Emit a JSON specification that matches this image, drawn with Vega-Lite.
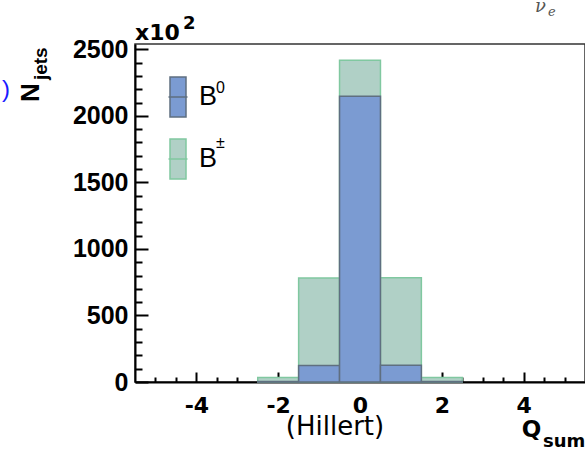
{
  "$schema": "https://vega.github.io/schema/vega-lite/v6.json",
  "width": 450,
  "height": 338,
  "autosize": {"type": "none"},
  "padding": {"left": 135, "top": 44, "right": 0, "bottom": 72},
  "background": "white",
  "config": {
    "view": {"stroke": "#333", "strokeWidth": 1.5},
    "axis": {"grid": false, "title": null},
    "legend": {
      "orient": "none",
      "legendX": 22,
      "legendY": 32,
      "padding": 0,
      "title": null,
      "symbolType": "M-0.4,-1L0.4,-1L0.4,1L-0.4,1Z M-0.475,0L0.475,0",
      "symbolSize": 1600,
      "symbolStrokeWidth": 1.5,
      "symbolOpacity": 1,
      "labelFont": "Liberation Sans",
      "labelFontSize": 27,
      "labelColor": "#000",
      "labelOffset": 0,
      "rowPadding": 16
    }
  },
  "datasets": {
    "hist": [
      {"q_lo": -2.5, "q_hi": -1.5, "series": "B±", "n": 34},
      {"q_lo": -1.5, "q_hi": -0.5, "series": "B±", "n": 782},
      {"q_lo": -0.5, "q_hi": 0.5, "series": "B±", "n": 2417},
      {"q_lo": 0.5, "q_hi": 1.5, "series": "B±", "n": 784},
      {"q_lo": 1.5, "q_hi": 2.5, "series": "B±", "n": 34},
      {"q_lo": -2.5, "q_hi": -1.5, "series": "B0", "n": 3},
      {"q_lo": -1.5, "q_hi": -0.5, "series": "B0", "n": 124},
      {"q_lo": -0.5, "q_hi": 0.5, "series": "B0", "n": 2147},
      {"q_lo": 0.5, "q_hi": 1.5, "series": "B0", "n": 126},
      {"q_lo": 1.5, "q_hi": 2.5, "series": "B0", "n": 3}
    ],
    "one": [{}]
  },
  "resolve": {"axis": {"x": "independent", "y": "independent"}},
  "layer": [
    {
      "data": {"name": "hist"},
      "transform": [{"filter": "datum.series === 'B±'"}],
      "mark": {"type": "bar", "strokeWidth": 1.5},
      "encoding": {
        "x": {"field": "q_lo", "type": "quantitative",
          "scale": {"domain": [-5.5, 5.5], "nice": false, "zero": false},
          "axis": {"orient": "bottom", "values": [-4, -2, 0, 2, 4], "tickSize": 0, "tickOpacity": 0,
            "domainColor": "#000", "domainWidth": 2, "labelFont": "DejaVu Sans", "labelFontSize": 22, "labelFontWeight": "bold",
            "labelColor": "#000", "labelPadding": 13, "labelFlush": false, "labelExpr": "'' + datum.value", "title": null}},
        "x2": {"field": "q_hi"},
        "y": {"field": "n", "type": "quantitative",
          "scale": {"domain": [0, 2540], "nice": false, "zero": false},
          "axis": {"orient": "left", "values": [0, 500, 1000, 1500, 2000, 2500], "tickSize": 0, "tickOpacity": 0,
            "domainColor": "#000", "domainWidth": 2, "labelFont": "Liberation Sans", "labelFontSize": 25, "labelFontWeight": "bold",
            "labelColor": "#000", "labelPadding": 7, "labelExpr": "'' + datum.value", "title": null}},
        "y2": {"datum": 0},
        "fill": {"field": "series", "type": "nominal", "scale": {"domain": ["B0", "B±"], "range": ["#7b9bd2", "#b0d0c6"]},
          "legend": {"labelExpr": "'B'"}},
        "stroke": {"field": "series", "type": "nominal", "scale": {"domain": ["B0", "B±"], "range": ["#5f6f80", "#80c8a0"]},
          "legend": {"labelExpr": "'B'"}}
      }
    },
    {
      "data": {"name": "hist"},
      "transform": [{"filter": "datum.series === 'B0'"}],
      "mark": {"type": "bar", "strokeWidth": 1.5},
      "encoding": {
        "x": {"field": "q_lo", "type": "quantitative",
          "axis": {"orient": "top", "offset": -338, "values": [-4, -2, 0, 2, 4],
            "ticks": true, "tickSize": 10, "tickWidth": 2, "tickColor": "black", "domain": false, "labels": false, "title": null}},
        "x2": {"field": "q_hi"},
        "y": {"field": "n", "type": "quantitative",
          "axis": {"orient": "right", "offset": -450, "values": [0, 500, 1000, 1500, 2000, 2500],
            "ticks": true, "tickSize": 13, "tickWidth": 2, "tickColor": "black", "domain": false, "labels": false, "title": null}},
        "y2": {"datum": 0},
        "fill": {"field": "series", "type": "nominal", "legend": {"labelExpr": "'B'"}},
        "stroke": {"field": "series", "type": "nominal", "legend": {"labelExpr": "'B'"}}
      }
    },
    {
      "data": {"name": "one"},
      "mark": {"type": "text", "text": ")", "align": "right", "baseline": "alphabetic", "font": "Liberation Sans", "fontSize": 24, "color": "#1a1aff"},
      "encoding": {
        "x": {"datum": -8.556, "type": "quantitative",
          "axis": {"orient": "top", "offset": -338, "values": [-5, -4.5, -3.5, -3, -2.5, -1.5, -1, -0.5, 0.5, 1, 1.5, 2.5, 3, 3.5, 4.5, 5],
            "ticks": true, "tickSize": 5, "tickWidth": 2, "tickColor": "black", "domain": false, "labels": false, "title": null}},
        "y": {"datum": 2142, "type": "quantitative",
          "axis": {"orient": "right", "offset": -450, "values": [100, 200, 300, 400, 600, 700, 800, 900, 1100, 1200, 1300, 1400, 1600, 1700, 1800, 1900, 2100, 2200, 2300, 2400],
            "ticks": true, "tickSize": 7, "tickWidth": 2, "tickColor": "black", "domain": false, "labels": false, "title": null}}}
    },
    {
      "data": {"name": "one"},
      "mark": {"type": "text", "text": "N", "angle": 270, "align": "left", "baseline": "alphabetic", "font": "Liberation Sans", "fontSize": 26, "fontWeight": "bold", "color": "#000"},
      "encoding": {"x": {"datum": -7.847, "type": "quantitative", "axis": null}, "y": {"datum": 2104, "type": "quantitative", "axis": null}}
    },
    {
      "data": {"name": "one"},
      "mark": {"type": "text", "text": "jets", "angle": 270, "align": "left", "baseline": "alphabetic", "font": "Liberation Sans", "fontSize": 19, "fontWeight": "bold", "color": "#000"},
      "encoding": {"x": {"datum": -7.651, "type": "quantitative", "axis": null}, "y": {"datum": 2269, "type": "quantitative", "axis": null}}
    },
    {
      "data": {"name": "one"},
      "mark": {"type": "text", "text": "x10", "align": "left", "baseline": "alphabetic", "font": "DejaVu Sans", "fontSize": 22, "fontWeight": "bold", "color": "#000"},
      "encoding": {"x": {"datum": -5.5, "type": "quantitative", "axis": null}, "y": {"datum": 2570, "type": "quantitative", "axis": null}}
    },
    {
      "data": {"name": "one"},
      "mark": {"type": "text", "text": "2", "align": "left", "baseline": "alphabetic", "font": "DejaVu Sans", "fontSize": 18, "fontWeight": "bold", "color": "#000"},
      "encoding": {"x": {"datum": -4.327, "type": "quantitative", "axis": null}, "y": {"datum": 2653, "type": "quantitative", "axis": null}}
    },
    {
      "data": {"name": "one"},
      "mark": {"type": "text", "text": "0", "align": "left", "baseline": "alphabetic", "font": "Liberation Sans", "fontSize": 16, "color": "#000"},
      "encoding": {"x": {"datum": -3.52, "type": "quantitative", "axis": null}, "y": {"datum": 2172, "type": "quantitative", "axis": null}}
    },
    {
      "data": {"name": "one"},
      "mark": {"type": "text", "text": "±", "align": "left", "baseline": "alphabetic", "font": "Liberation Sans", "fontSize": 16, "color": "#000"},
      "encoding": {"x": {"datum": -3.52, "type": "quantitative", "axis": null}, "y": {"datum": 1758, "type": "quantitative", "axis": null}}
    },
    {
      "data": {"name": "one"},
      "mark": {"type": "text", "text": "(Hillert)", "align": "center", "baseline": "alphabetic", "font": "DejaVu Sans", "fontSize": 26, "color": "#000"},
      "encoding": {"x": {"datum": -0.611, "type": "quantitative", "axis": null}, "y": {"datum": -398, "type": "quantitative", "axis": null}}
    },
    {
      "data": {"name": "one"},
      "mark": {"type": "text", "text": "Q", "align": "left", "baseline": "alphabetic", "font": "DejaVu Sans", "fontSize": 23, "fontWeight": "bold", "color": "#000"},
      "encoding": {"x": {"datum": 3.953, "type": "quantitative", "axis": null}, "y": {"datum": -413, "type": "quantitative", "axis": null}}
    },
    {
      "data": {"name": "one"},
      "mark": {"type": "text", "text": "sum", "align": "left", "baseline": "alphabetic", "font": "DejaVu Sans", "fontSize": 18, "fontWeight": "bold", "color": "#000"},
      "encoding": {"x": {"datum": 4.473, "type": "quantitative", "axis": null}, "y": {"datum": -489, "type": "quantitative", "axis": null}}
    },
    {
      "data": {"name": "one"},
      "mark": {"type": "text", "text": "ν", "align": "left", "baseline": "alphabetic", "font": "DejaVu Serif", "fontSize": 18, "fontStyle": "italic", "color": "#555"},
      "encoding": {"x": {"datum": 4.278, "type": "quantitative", "axis": null}, "y": {"datum": 2777, "type": "quantitative", "axis": null}}
    },
    {
      "data": {"name": "one"},
      "mark": {"type": "text", "text": "e", "align": "left", "baseline": "alphabetic", "font": "DejaVu Serif", "fontSize": 13, "fontStyle": "italic", "color": "#555"},
      "encoding": {"x": {"datum": 4.596, "type": "quantitative", "axis": null}, "y": {"datum": 2754, "type": "quantitative", "axis": null}}
    }
  ]
}
